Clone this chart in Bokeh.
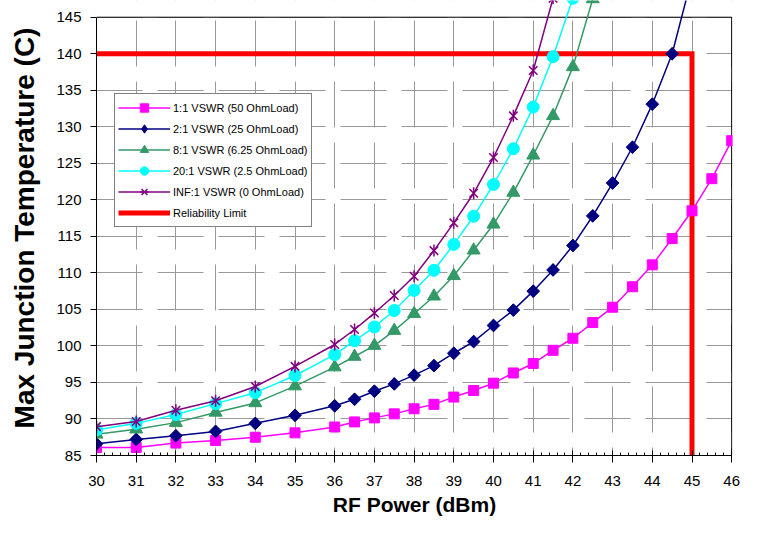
from math import pi
from bokeh.plotting import figure
from bokeh.models import Range1d, SingleIntervalTicker, Legend, LegendItem, BoxAnnotation
from bokeh.embed import file_html
from bokeh.resources import INLINE

# ---------------- data ----------------
POWER = [30, 31, 32, 33, 34, 35, 36, 36.5, 37, 37.5, 38, 38.5, 39, 39.5, 40,
         40.5, 41, 41.5, 42, 42.5, 43, 43.5, 44, 44.5, 45, 45.5, 46]

VSWR_1 = [86.1, 86.1, 86.7, 87.05, 87.5, 88.1, 88.9, 89.6, 90.15, 90.7, 91.4,
          92.0, 93.0, 93.9, 94.9, 96.3, 97.6, 99.4, 101.05, 103.2, 105.3,
          108.1, 111.1, 114.7, 118.5, 122.9, 128.1]
VSWR_2 = [86.6, 87.2, 87.7, 88.3, 89.4, 90.5, 91.8, 92.7, 93.8, 94.8, 96.0,
          97.3, 99.0, 100.6, 102.8, 104.9, 107.5, 110.4, 113.75, 117.8, 122.3,
          127.2, 133.1, 140.0, 150.5]
VSWR_8 = [87.9, 88.6, 89.5, 90.9, 92.2, 94.5, 97.1, 98.55, 100.05, 102.1,
          104.4, 106.8, 109.6, 113.1, 116.65, 121.0, 126.1, 131.5, 138.2, 147.5]
VSWR_20 = [88.5, 89.4, 90.6, 92.1, 93.6, 95.95, 98.8, 100.7, 102.6, 104.85,
           107.6, 110.35, 113.9, 117.75, 122.1, 127.0, 132.7, 139.6, 147.6]
VSWR_INF = [88.95, 89.65, 91.2, 92.5, 94.45, 97.2, 100.2, 102.25, 104.5, 106.9,
            109.55, 113.05, 116.85, 120.9, 125.8, 131.5, 137.7, 147.6]

SERIES_LABELS = ["1:1 VSWR (50 OhmLoad)", "2:1 VSWR (25 OhmLoad)",
                 "8:1 VSWR (6.25 OhmLoad)", "20:1 VSWR (2.5 OhmLoad)",
                 "INF:1 VSWR (0 OhmLoad)"]
LIMIT_LABEL = "Reliability Limit"
LIMIT_TEMP = 140
LIMIT_POWER = 45

X_MIN, X_MAX = 30, 46
Y_MIN, Y_MAX = 85, 145

# ---------------- figure ----------------
p = figure(width=743, height=519, output_backend="svg", toolbar_location=None,
           x_range=Range1d(X_MIN, 46.02), y_range=Range1d(Y_MIN, 147.29),
           min_border_left=96, min_border_right=11, min_border_top=0,
           min_border_bottom=64)
p.outline_line_color = None
p.background_fill_color = "white"
p.border_fill_color = "white"

xt = SingleIntervalTicker(interval=1, num_minor_ticks=5)
yt = SingleIntervalTicker(interval=5, num_minor_ticks=0)

for g, off in ((p.xgrid, 38), (p.ygrid, 0)):
    g.grid_line_color = "#999999"
    g.grid_line_width = 1
    g.grid_line_dash = "46 15"
    g.grid_line_dash_offset = off
p.xgrid.ticker = xt
p.ygrid.ticker = yt

# hide the grid above the top of the value axis
p.add_layout(BoxAnnotation(bottom=Y_MAX, fill_color="white", fill_alpha=1,
                           line_color=None, level="underlay"))

FONT = "Liberation Sans"

xa = p.xaxis[0]
xa.ticker = xt
xa.bounds = (X_MIN, X_MAX)
xa.axis_line_color = "black"
xa.major_tick_line_color = "black"
xa.minor_tick_line_color = "black"
xa.major_tick_in = 5
xa.major_tick_out = 7
xa.minor_tick_in = 3
xa.minor_tick_out = 0
xa.major_label_text_font = FONT
xa.major_label_text_font_size = "15px"
xa.major_label_text_color = "black"
xa.major_label_standoff = 13
xa.axis_label = "RF Power (dBm)"
xa.axis_label_text_font = FONT
xa.axis_label_text_font_size = "21px"
xa.axis_label_text_font_style = "bold"
xa.axis_label_text_color = "black"
xa.axis_label_standoff = 4

ya = p.yaxis[0]
ya.ticker = yt
ya.bounds = (Y_MIN, Y_MAX)
ya.axis_line_color = "black"
ya.major_tick_line_color = "black"
ya.minor_tick_line_color = None
ya.major_tick_in = 0
ya.major_tick_out = 6
ya.major_label_text_font = FONT
ya.major_label_text_font_size = "15px"
ya.major_label_text_color = "black"
ya.major_label_standoff = 9
ya.axis_label = "Max Junction Temperature (C)"
ya.axis_label_text_font = FONT
ya.axis_label_text_font_size = "28px"
ya.axis_label_text_font_style = "bold"
ya.axis_label_text_color = "black"
ya.axis_label_standoff = 13

# reliability limit (drawn beneath the series)
red = p.line([X_MIN, LIMIT_POWER, LIMIT_POWER], [LIMIT_TEMP, LIMIT_TEMP, Y_MIN],
             line_color="#ff0000", line_width=5, line_join="miter")

# frame border top/right
p.line([X_MIN, X_MAX, X_MAX], [Y_MAX, Y_MAX, Y_MIN], line_color="black", line_width=1)


def add_series(vals, color, marker, size, angle=0.0, lw=1.0):
    xs = POWER[:len(vals)]
    ln = p.line(xs, vals, line_color=color, line_width=1.5)
    mk = p.scatter(xs, vals, marker=marker, size=size, angle=angle,
                   fill_color=color, line_color=color, line_width=lw)
    return [ln, mk]


r1 = add_series(VSWR_1, "#ff00ff", "square", 10)
# diamond marker (hidden under the rotated squares in the plot, shown in the legend)
xs2 = POWER[:len(VSWR_2)]
r2_leg = p.scatter(xs2, VSWR_2, marker="diamond", size=12,
                   fill_color="#000080", line_color="#000080")
r2 = add_series(VSWR_2, "#000080", "square", 9, angle=pi / 4)
r3 = add_series(VSWR_8, "#339966", "triangle", 13)
r4 = add_series(VSWR_20, "#00ffff", "circle", 12)
r5 = add_series(VSWR_INF, "#800080", "x", 12, lw=1.5)
xs5 = POWER[:len(VSWR_INF)]
r5.append(p.scatter(xs5, VSWR_INF, marker="dash", size=12, angle=pi / 2,
                    line_color="#800080", line_width=1.5))

leg_renderers = [r1, [r2[0], r2_leg], r3, r4, r5]
items = [LegendItem(label=lbl, renderers=r)
         for lbl, r in zip(SERIES_LABELS, leg_renderers)]
items.append(LegendItem(label=LIMIT_LABEL, renderers=[red]))

legend = Legend(items=items, location=(18, 228),
                border_line_color="black", border_line_width=1,
                background_fill_color="white", background_fill_alpha=1,
                label_text_font=FONT, label_text_font_size="11px",
                label_text_color="black",
                glyph_width=52, glyph_height=21, label_height=21,
                spacing=0, padding=3, label_standoff=3, margin=0)
p.add_layout(legend)

open("out.html", "w").write(file_html(p, INLINE))
